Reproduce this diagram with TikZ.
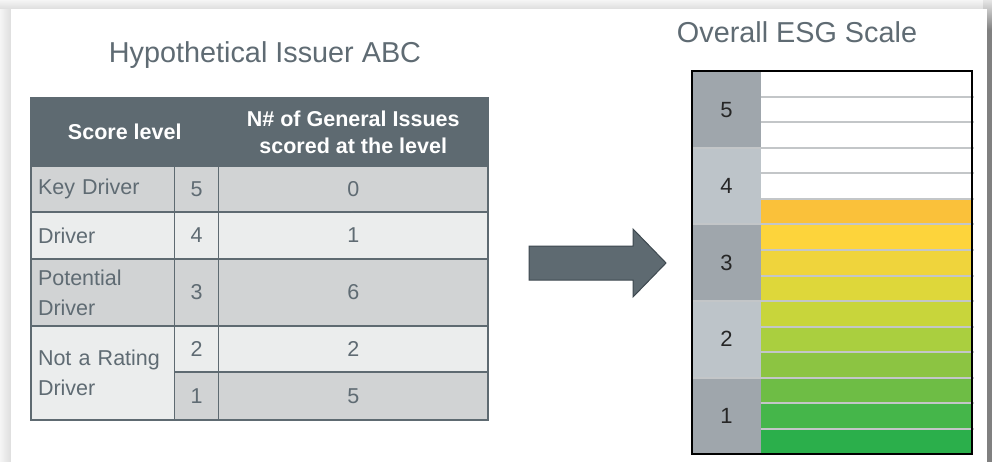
\documentclass[tikz,border=0pt]{standalone}
\usepackage{fontspec}
\setmainfont{Liberation Sans}
\usepackage{tikz}
\usetikzlibrary{calc}
\definecolor{slate}{HTML}{5E6A71}
\definecolor{slatedark}{HTML}{3E4950}
\definecolor{ink}{HTML}{5F6B73}
\definecolor{rowdark}{HTML}{D1D3D4}
\definecolor{rowlight}{HTML}{EBEDED}
\definecolor{lvldark}{HTML}{9FA6AC}
\definecolor{lvllight}{HTML}{BDC4C9}
\definecolor{sepgray}{HTML}{C3C6C8}
\definecolor{barA}{HTML}{FAC13A}
\definecolor{barB}{HTML}{FDD43B}
\definecolor{barC}{HTML}{EFD43C}
\definecolor{barD}{HTML}{DED73A}
\definecolor{barE}{HTML}{C8D53B}
\definecolor{barF}{HTML}{AACF3F}
\definecolor{barG}{HTML}{8CC442}
\definecolor{barH}{HTML}{6EBD45}
\definecolor{barI}{HTML}{45B64A}
\definecolor{barJ}{HTML}{2BAF4B}
\tikzset{
  title/.style={text=ink, font=\fontsize{28.8}{34}\selectfont, inner sep=0pt},
  cell/.style={draw=slate, line width=1.2pt, inner sep=0pt, text=ink,
    font=\fontsize{21.5}{30}\selectfont},
  namecell/.style={cell, align=left, inner xsep=7pt, text width=129.5pt,
    minimum width=143.5pt},
  numcell/.style={cell, minimum width=44pt},
  countcell/.style={cell, minimum width=269.5pt},
  headcell/.style={cell, fill=slate, text=white,
    font=\fontsize{21.5}{27}\selectfont\bfseries, align=center},
  lvlcell/.style={inner sep=0pt, minimum width=69pt, minimum height=76.5pt,
    text=black!85, font=\fontsize{22}{26}\selectfont},
  sep/.style={draw=sepgray, line width=2pt},
}

\begin{document}
\begin{tikzpicture}[x=1pt, y=-1pt]
  % page and shadow frame
  \fill[white] (0,0) rectangle (992,462);
  \shade[left color=black!4, right color=black!13] (0,0) rectangle (11,462);
  \shade[top color=black!4, bottom color=black!13] (0,0) rectangle (992,9);
  \shade[top color=black!10, bottom color=black!50] (983,0) rectangle (992,30);
  \fill[black!50] (987,30) rectangle (992,462);
  \fill[white] (11,9) rectangle (987,462);

  % left: issuer table
  \node[title] (issuer) at (265,55) {Hypothetical Issuer ABC};

  \node[headcell, minimum width=187.5pt, minimum height=68pt] (hscore) at (124.75,132) {Score level};
  \node[headcell, minimum width=269.5pt, minimum height=68pt] (hcount) at (353.25,132) {N\# of General Issues\\scored at the level};

  \node[namecell, fill=rowdark, minimum height=46pt] (kd) at (102.75,189) {Key Driver};
  \node[numcell, fill=rowdark, minimum height=46pt] (kdn) at (196.5,189) {5};
  \node[countcell, fill=rowdark, minimum height=46pt] (kdc) at (353.25,189) {0};

  \node[namecell, fill=rowlight, minimum height=47pt] (dr) at (102.75,235.5) {Driver};
  \node[numcell, fill=rowlight, minimum height=47pt] (drn) at (196.5,235.5) {4};
  \node[countcell, fill=rowlight, minimum height=47pt] (drc) at (353.25,235.5) {1};

  \node[namecell, fill=rowdark, minimum height=67pt] (pd) at (102.75,292.5) {Potential\\Driver};
  \node[numcell, fill=rowdark, minimum height=67pt] (pdn) at (196.5,292.5) {3};
  \node[countcell, fill=rowdark, minimum height=67pt] (pdc) at (353.25,292.5) {6};

  \node[namecell, fill=rowlight, minimum height=94pt] (nr) at (102.75,373) {Not a Rating\\Driver};
  \node[numcell, fill=rowlight, minimum height=46pt] (nrtwo) at (196.5,349) {2};
  \node[countcell, fill=rowlight, minimum height=46pt] (nrtwoc) at (353.25,349) {2};
  \node[numcell, fill=rowdark, minimum height=48pt] (nrone) at (196.5,396) {1};
  \node[countcell, fill=rowdark, minimum height=48pt] (nronec) at (353.25,396) {5};

  % block arrow
  \draw[fill=slate, draw=slatedark, line width=1pt, line join=miter]
    (529,246) -- (633,246) -- (633,229) -- (666,263) -- (633,297) -- (633,280) -- (529,280) -- cycle;

  % right: overall scale
  \node[title] (scale) at (797,32) {Overall ESG Scale};

  \foreach \c [count=\i from 0] in {white,white,white,white,white,barA,barB,barC,barD,barE,barF,barG,barH,barI,barJ}
    \fill[\c] (761,71.5+25.5*\i) rectangle (972,97+25.5*\i);

  \foreach \lvl/\shadec [count=\j from 0] in {5/lvldark,4/lvllight,3/lvldark,2/lvllight,1/lvldark}
    \node[lvlcell, fill=\shadec] (lvl\lvl) at (726.5,109.75+76.5*\j) {\lvl};

  \foreach \i in {1,2,4,5,7,8,10,11,13,14}
    \draw[sep] (761,71.5+25.5*\i) -- (974,71.5+25.5*\i);
  \foreach \i in {3,6,9,12}
    \draw[sep] (692,71.5+25.5*\i) -- (974,71.5+25.5*\i);

  \draw[black, line width=1.2pt] (692,71.5) -- (692,454) -- (972,454) -- (972,71.5);
  \draw[black, line width=2.5pt] (691,71) -- (973,71);
\end{tikzpicture}
\end{document}
